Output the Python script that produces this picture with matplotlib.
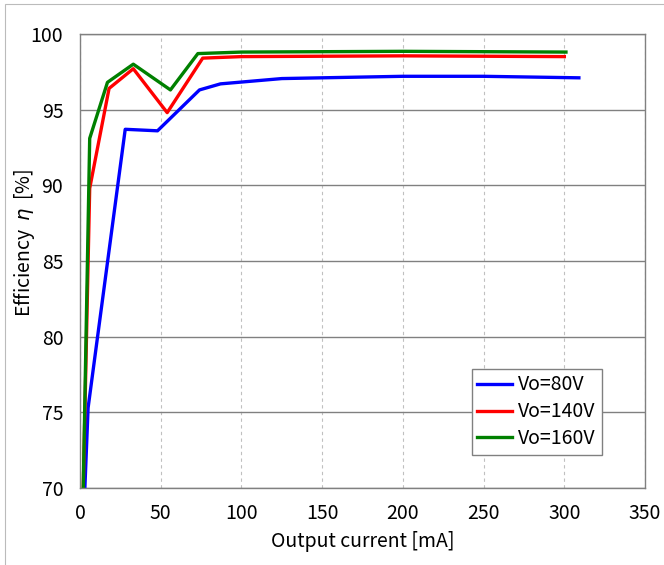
from matplotlib import pyplot as plt
from matplotlib.patches import Rectangle

plt.rcParams['font.family'] = ['Noto Sans CJK JP', 'DejaVu Sans']

# Output current [mA] and efficiency [%] per output voltage
i80 = [3, 5, 28, 48, 74, 87, 125, 200, 250, 309]
eff80 = [70.0, 75.3, 93.7, 93.6, 96.3, 96.7, 97.05, 97.2, 97.2, 97.1]

i140 = [2, 6, 18, 33, 54, 76, 100, 200, 300]
eff140 = [70.0, 89.8, 96.4, 97.7, 94.8, 98.4, 98.5, 98.55, 98.5]

i160 = [2, 6, 17, 33, 56, 73, 100, 200, 301]
eff160 = [70.0, 93.1, 96.8, 98.0, 96.3, 98.7, 98.8, 98.85, 98.8]

xticks = [0, 50, 100, 150, 200, 250, 300, 350]
yticks = [70, 75, 80, 85, 90, 95, 100]

fig = plt.figure(figsize=(6.64, 5.65), dpi=100)
ax = fig.add_axes([0.1205, 0.136, 0.851, 0.804])

# thin gray frame around the figure (only left/top visible)
fig.patches.append(Rectangle((0.008, -0.1), 1.2, 1.093, transform=fig.transFigure,
                             fill=False, edgecolor='#bbbbbb', linewidth=0.8))

ax.plot(i80, eff80, color='#0000ff', lw=2.4, label='Vo=80V')
ax.plot(i140, eff140, color='#ff0000', lw=2.4, label='Vo=140V')
ax.plot(i160, eff160, color='#008000', lw=2.4, label='Vo=160V')

ax.set_xlim(0, 350)
ax.set_ylim(70, 100)
ax.set_xticks(xticks)
ax.set_yticks(yticks)
ax.tick_params(axis='y', labelsize=14, length=0, pad=12)
ax.tick_params(axis='x', labelsize=14, length=0, pad=11)

ax.yaxis.grid(True, color='#808080', lw=1.0, ls='-')
ax.xaxis.grid(True, color='#c0c0c0', lw=0.8, ls=(0, (3, 3)))
ax.set_axisbelow(True)
for s in ax.spines.values():
    s.set_color('#808080')
    s.set_linewidth(1.0)

ax.set_xlabel('Output current [mA]', fontsize=14, labelpad=5)
ax.set_ylabel('Efficiency  $\\eta$  [%]', fontsize=14)
ax.yaxis.set_label_coords(-0.077, 0.54)

leg = ax.legend(loc='lower right', bbox_to_anchor=(0.923, 0.073), fontsize=14,
                fancybox=False, framealpha=1, edgecolor='#808080',
                handlelength=1.8, handletextpad=0.3, borderpad=0.3,
                labelspacing=0.3, borderaxespad=0)
leg.get_frame().set_linewidth(1.0)

plt.savefig('out.png')
